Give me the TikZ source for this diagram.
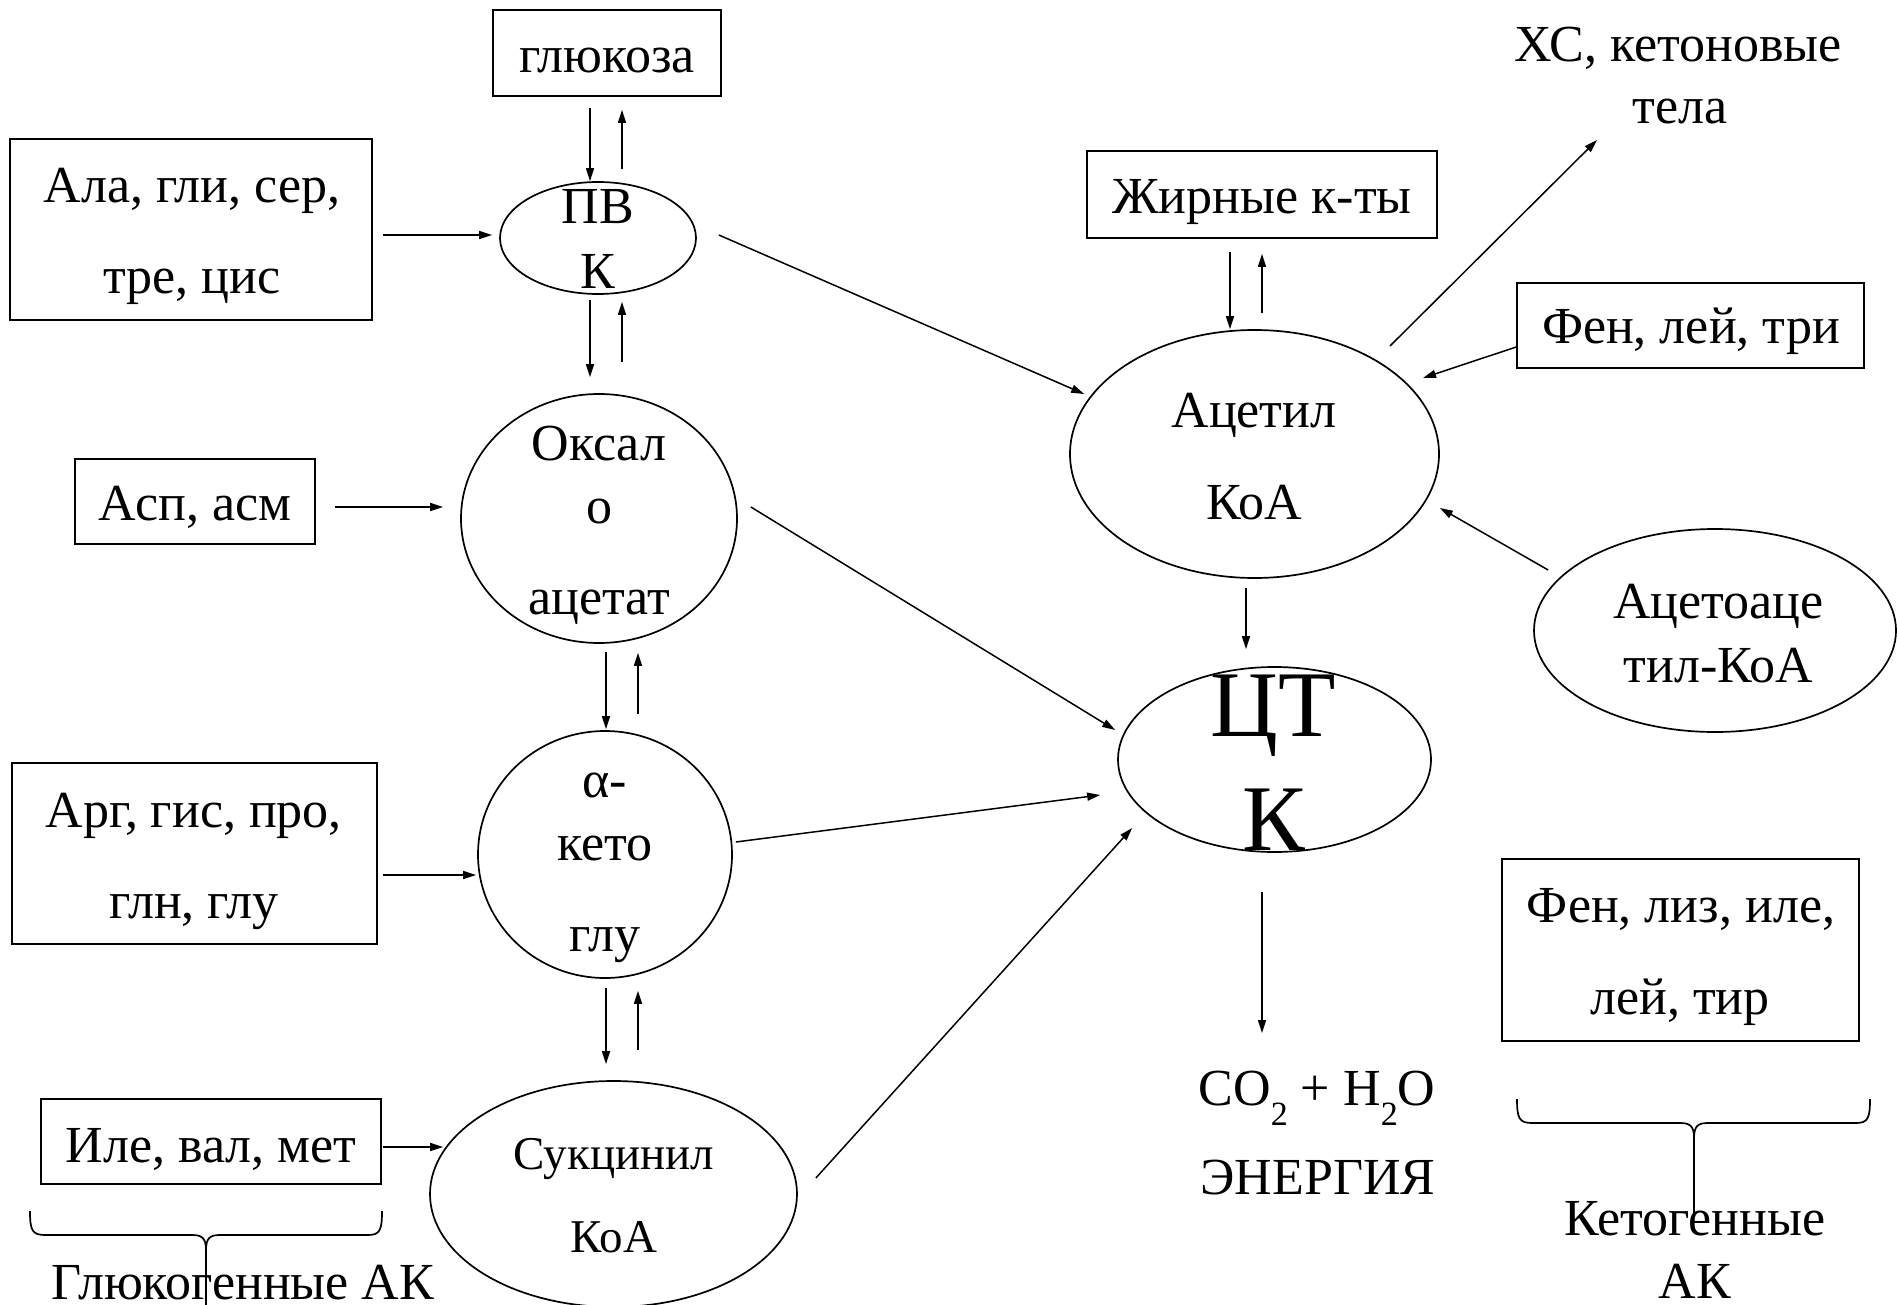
\documentclass[tikz,border=0pt]{standalone}
\usepackage{fontspec}
\setmainfont{Liberation Serif}
\usetikzlibrary{shapes.geometric,arrows.meta,calc}
\newcommand\subtwo{\raisebox{-0.4em}{\fontsize{34}{34}\selectfont 2}}
\begin{document}
\begin{tikzpicture}[x=1pt,y=-1pt,
  boxnode/.style={draw,rectangle,inner sep=0pt,line width=1.7pt},
  ellnode/.style={draw,ellipse,inner sep=0pt,line width=1.7pt},
  txt/.style={anchor=base,inner sep=0pt,font=\fontsize{52}{60}\selectfont},
  smalltxt/.style={txt,font=\fontsize{47}{56}\selectfont},
  bigtxt/.style={txt,font=\fontsize{94}{100}\selectfont},
  arr/.style={-{Triangle[length=13pt,width=8pt]},line width=1.5pt},
  bracepath/.style={line width=1.7pt},
  stem/.style={line width=1.2pt}]
\useasboundingbox (0,0) rectangle (1897,1305);

% boxes
\node[boxnode,minimum width=228pt,minimum height=86pt] (glu) at (607,53) {};
\node[boxnode,minimum width=362pt,minimum height=181pt] (ala) at (191,229.5) {};
\node[boxnode,minimum width=240pt,minimum height=85pt] (asp) at (195,501.5) {};
\node[boxnode,minimum width=365pt,minimum height=181pt] (arg) at (194.5,853.5) {};
\node[boxnode,minimum width=340pt,minimum height=85pt] (ile) at (211,1141.5) {};
\node[boxnode,minimum width=350pt,minimum height=87pt] (fat) at (1262,194.5) {};
\node[boxnode,minimum width=347pt,minimum height=85pt] (fen) at (1690.5,325.5) {};
\node[boxnode,minimum width=357pt,minimum height=182pt] (fen2) at (1680.5,950) {};

% ellipses
\node[ellnode,minimum width=196pt,minimum height=112pt] (pvk) at (598,238) {};
\node[ellnode,minimum width=276pt,minimum height=249pt] (oxa) at (599,518.5) {};
\node[ellnode,minimum width=254pt,minimum height=247pt] (akg) at (605,854.5) {};
\node[ellnode,minimum width=367pt,minimum height=226pt] (suc) at (613.5,1194) {};
\node[ellnode,minimum width=369pt,minimum height=248pt] (acetyl) at (1254.5,454) {};
\node[ellnode,minimum width=313pt,minimum height=185pt] (ctk) at (1274.5,759.5) {};
\node[ellnode,minimum width=362pt,minimum height=203pt] (aceto) at (1715,630.5) {};

% texts
\node[txt] (glut) at (607,73) {глюкоза};
\node[txt] (alat1) at (192,203) {Ала, гли, сер,};
\node[txt] (alat2) at (192,294) {тре, цис};
\node[txt] (pvkt1) at (598,224) {ПВ};
\node[txt] (pvkt2) at (598,289) {К};
\node[txt] (aspt) at (195,520) {Асп, асм};
\node[txt] (oxat1) at (599,460) {Оксал};
\node[txt] (oxat2) at (599,523) {о};
\node[txt] (oxat3) at (599,614) {ацетат};
\node[txt] (argt1) at (194,827) {Арг, гис, про,};
\node[txt] (argt2) at (194,918) {глн, глу};
\node[txt] (akgt1) at (605,797) {α-};
\node[txt] (akgt2) at (605,860) {кето};
\node[txt] (akgt3) at (605,951) {глу};
\node[txt] (ilet) at (211,1162) {Иле, вал, мет};
\node[smalltxt] (suct1) at (614,1169) {Сукцинил};
\node[smalltxt] (suct2) at (614,1252) {КоА};
\node[txt] (glucog) at (243,1299) {Глюкогенные АК};
\node[txt] (fatt) at (1262,214) {Жирные к-ты};
\node[txt] (xs1) at (1678,62) {ХС, кетоновые};
\node[txt] (xs2) at (1680,124) {тела};
\node[txt] (fent) at (1691,344) {Фен, лей, три};
\node[txt] (acett1) at (1254,427) {Ацетил};
\node[txt] (acett2) at (1254,519) {КоА};
\node[txt] (acetot1) at (1718.5,618) {Ацетоаце};
\node[txt] (acetot2) at (1718.5,682) {тил-КоА};
\node[bigtxt] (ctkt1) at (1273.5,736) {ЦТ};
\node[bigtxt] (ctkt2) at (1273.5,850) {К};
\node[txt] (co2) at (1317,1105) {CO\subtwo{} + H\subtwo{}O};
\node[txt] (energy) at (1318,1194) {ЭНЕРГИЯ};
\node[txt] (fen2t1) at (1681,922) {Фен, лиз, иле,};
\node[txt] (fen2t2) at (1680,1014) {лей, тир};
\node[txt] (ketog1) at (1695,1235) {Кетогенные};
\node[txt] (ketog2) at (1695,1298) {АК};

% connectors
\draw[arr] ($(glu.south)+(-17,11)$) -- ($(pvk.north)+(-8,0)$);
\draw[arr] ($(pvk.north)+(24,-12)$) -- ($(glu.south)+(15,13)$);
\draw[arr] ($(ala.east)+(10,5.5)$) -- ($(pvk.west)+(-7,-3)$);
\draw[arr] ($(pvk.south)+(-8,5)$) -- ($(oxa.north)+(-9,-16)$);
\draw[arr] ($(oxa.north)+(23,-31)$) -- ($(pvk.south)+(24,7)$);
\draw[arr] ($(asp.east)+(19,5.5)$) -- ($(oxa.west)+(-17,-11.5)$);
\draw[arr] ($(oxa.south)+(7,8)$) -- ($(akg.north)+(1,-1)$);
\draw[arr] ($(akg.north)+(33,-16)$) -- ($(oxa.south)+(39,9)$);
\draw[arr] ($(arg.east)+(5,21.5)$) -- ($(akg.west)+(-1,20.5)$);
\draw[arr] ($(akg.south)+(1,9)$) -- ($(suc.north)+(-7.5,-16)$);
\draw[arr] ($(suc.north)+(24.5,-30)$) -- ($(akg.south)+(33,12)$);
\draw[arr] ($(ile.east)+(1,5.5)$) -- ($(suc.west)+(14,-47)$);
\draw[arr] ($(pvk.east)+(22,-3)$) -- ($(acetyl.west)+(15,-60)$);
\draw[arr] ($(oxa.east)+(13,-11.5)$) -- ($(ctk.west)+(-2,-29.5)$);
\draw[arr] ($(akg.east)+(3,-12.5)$) -- ($(ctk.west)+(-17,35.5)$);
\draw[arr] ($(suc.east)+(18,-16)$) -- ($(ctk.west)+(15,68.5)$);
\draw[arr] ($(fat.south)+(-32,13)$) -- ($(acetyl.north)+(-24.5,0)$);
\draw[arr] ($(acetyl.north)+(7.5,-16)$) -- ($(fat.south)+(0,15)$);
\coordinate (xsend) at (1597,140);
\draw[arr] ($(acetyl.center)+(135.5,-108)$) -- (xsend);
\draw[arr] ($(fen.west)+(0,21.5)$) -- ($(acetyl.center)+(168.5,-76)$);
\draw[arr] ($(aceto.west)+(15,-60.5)$) -- ($(acetyl.east)+(0,54)$);
\draw[arr] ($(acetyl.south)+(-8.5,9)$) -- ($(ctk.north)+(-28.5,-17)$);
\draw[arr] ($(ctk.south)+(-12.5,39)$) -- ($(co2.base)+(-55,-72)$);

% braces
\draw[bracepath] (30,1211) .. controls (30,1230) and (32,1235) .. (45,1235) -- (192,1235) .. controls (202,1235) and (206,1238) .. (206,1250) .. controls (206,1238) and (210,1235) .. (220,1235) -- (368,1235) .. controls (380,1235) and (382,1230) .. (382,1211);
\draw[stem] (206,1250) -- (206,1305);
\draw[bracepath] (1517,1099) .. controls (1517,1118) and (1519,1123) .. (1532,1123) -- (1680,1123) .. controls (1690,1123) and (1694,1126) .. (1694,1138) .. controls (1694,1126) and (1698,1123) .. (1708,1123) -- (1856,1123) .. controls (1868,1123) and (1870,1118) .. (1870,1099);
\draw[stem] (1694,1138) -- (1694,1213);
\end{tikzpicture}
\end{document}
